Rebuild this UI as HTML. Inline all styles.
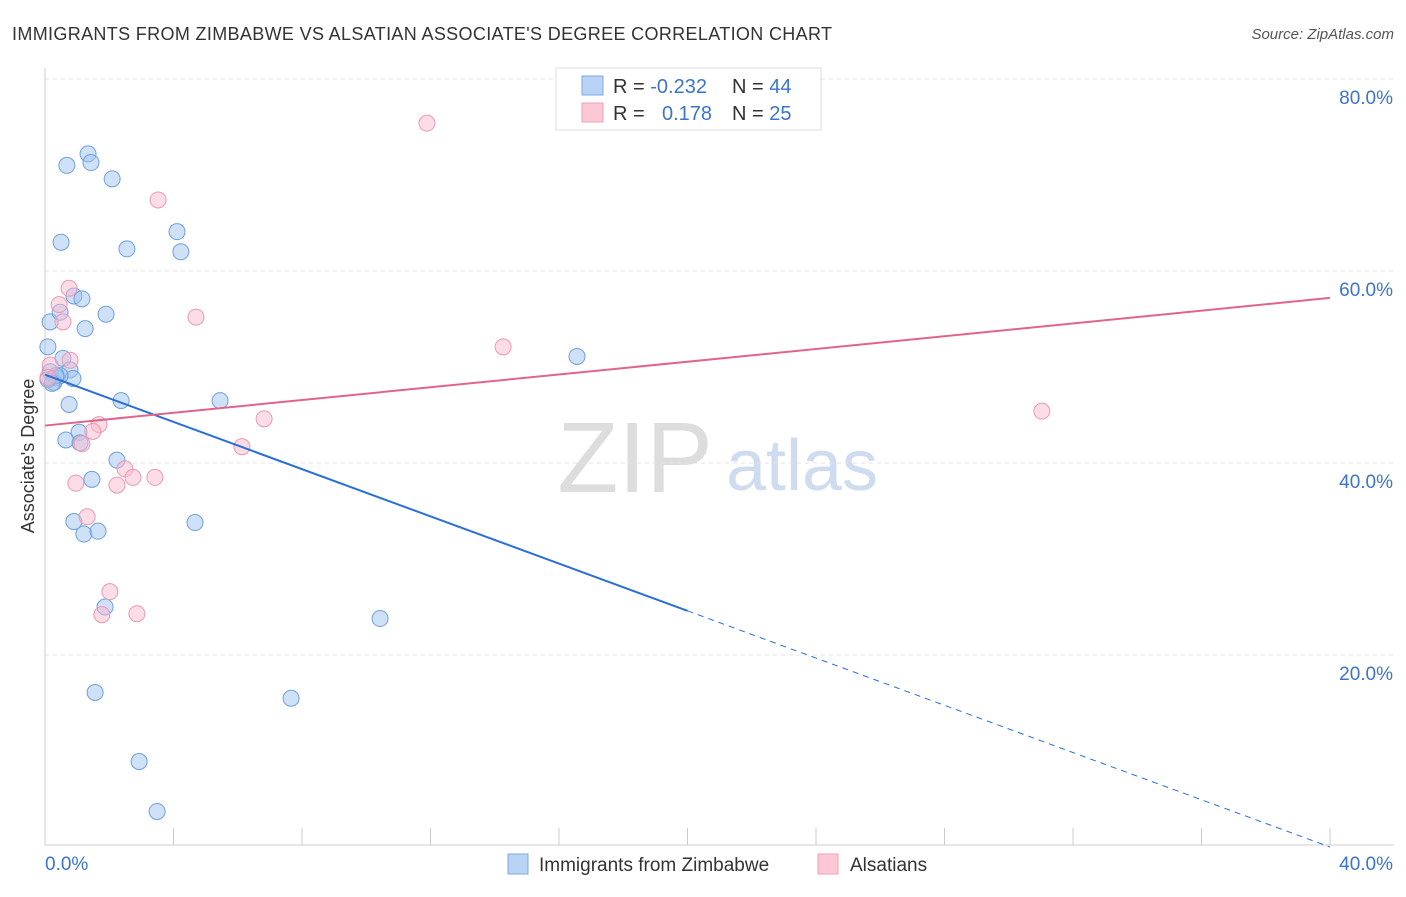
<!DOCTYPE html>
<html><head><meta charset="utf-8"><style>
body{margin:0;background:#fff;font-family:"Liberation Sans",sans-serif}
svg text{font-family:"Liberation Sans",sans-serif}
</style></head><body>
<svg id="c" width="1406" height="892" xmlns="http://www.w3.org/2000/svg">
<text x="12" y="40" font-size="18" fill="#333" textLength="820">IMMIGRANTS FROM ZIMBABWE VS ALSATIAN ASSOCIATE'S DEGREE CORRELATION CHART</text>
<text x="1394" y="39" font-size="15" fill="#555" text-anchor="end" font-style="italic">Source: ZipAtlas.com</text>
<text transform="translate(34,456) rotate(-90)" font-size="18" fill="#333" text-anchor="middle">Associate's Degree</text>
<g><text x="635" y="492" font-size="100" fill="#ddd" font-family="Liberation Serif" text-anchor="middle">ZIP</text><text x="802" y="490" font-size="72" fill="#cfdcf0" text-anchor="middle">atlas</text></g>
<g id="grid"></g><g id="pts"></g><g id="lines"></g>
<g>
<rect x="556" y="68" width="265" height="62" fill="#fff" stroke="#ddd"/>
<rect x="582" y="76" width="21" height="19" fill="#b8d3f5" stroke="#7ea9e0"/>
<rect x="582" y="103" width="21" height="19" fill="#fcc8d6" stroke="#efa1b6"/>
<text x="613" y="93" font-size="20" fill="#333">R = <tspan fill="#3b74cc">-0.232</tspan></text>
<text x="732" y="93" font-size="20" fill="#333">N = <tspan fill="#3b74cc">44</tspan></text>
<text x="613" y="120" font-size="20" fill="#333">R = <tspan fill="#3b74cc" x="662">0.178</tspan></text>
<text x="732" y="120" font-size="20" fill="#333">N = <tspan fill="#3b74cc">25</tspan></text>
</g>
<g>
<rect x="508" y="854" width="20" height="20" fill="#b8d3f5" stroke="#7ea9e0"/>
<text x="539" y="871" font-size="19" fill="#333">Immigrants from Zimbabwe</text>
<rect x="818" y="854" width="20" height="20" fill="#fcc8d6" stroke="#efa1b6"/>
<text x="850" y="871" font-size="19" fill="#333">Alsatians</text>
</g>
</svg>
<script>
const yTicks=[20,40,60,80];
const xTickLabels=["0.0%","40.0%"];
const blueX=[0.68,1.34,1.43,2.09,0.50,2.55,4.11,4.23,0.90,1.15,1.90,0.16,1.25,0.47,0.09,0.56,0.16,0.34,0.78,0.87,0.28,0.47,0.75,2.37,5.45,16.56,0.65,1.06,1.09,2.24,1.46,0.90,1.21,1.65,4.67,1.87,10.43,1.56,7.66,2.93,3.49,0.09,0.34,0.22];
const blueY=[71.0,72.2,71.3,69.6,63.0,62.3,64.1,62.0,57.4,57.1,55.5,54.7,54.0,55.7,52.1,50.9,49.5,48.9,49.7,48.8,48.4,49.1,46.1,46.5,46.5,51.1,42.4,43.2,42.1,40.3,38.3,33.9,32.6,32.9,33.8,25.0,23.8,16.1,15.5,8.9,3.7,48.7,49.1,48.3];
const pinkX=[11.89,3.52,0.75,0.44,0.56,4.70,0.78,0.16,14.26,31.03,0.09,6.82,1.68,1.49,1.15,6.13,2.49,2.74,3.42,0.96,2.24,1.31,2.02,1.77,2.86];
const pinkY=[75.4,67.4,58.2,56.5,54.7,55.2,50.7,50.2,52.1,45.4,48.9,44.6,44.0,43.3,42.0,41.7,39.4,38.5,38.5,37.9,37.7,34.4,26.6,24.2,24.3];
const blueLine=[49.2,0.0], pinkLine=[43.9,57.2];
const X0=45,X1=1330,Y0=847,PY=9.6;
const sx=v=>X0+(X1-X0)*v/40, sy=v=>Y0-v*PY;
const NS="http://www.w3.org/2000/svg";
function mk(t,a,p){const e=document.createElementNS(NS,t);for(const k in a)e.setAttribute(k,a[k]);p.appendChild(e);return e;}
const g=document.getElementById('grid');
yTicks.forEach(t=>{const l=mk('line',{x1:X0,x2:1394,y1:sy(t),y2:sy(t),stroke:'#e3e3e3','stroke-dasharray':'4,4'},g);


const tx=mk('text',{x:1393,y:sy(t)+25,'font-size':19,fill:'#3b74cc','text-anchor':'end'},g);tx.textContent=t.toFixed(1)+'%';

});
const ax=mk('line',{x1:X0,x2:X0,y1:68,y2:845,stroke:'#ccc'},g);


const bx=mk('line',{x1:X0,x2:1394,y1:845,y2:845,stroke:'#ccc'},g);


for(let i=1;i<=10;i++){const l=mk('line',{x1:sx(i*4),x2:sx(i*4),y1:828,y2:845,stroke:'#ccc'},g);

}
[[0,'start',45],[40,'end',1393]].forEach((d,i)=>{const t=mk('text',{x:d[2],y:870,'font-size':19,fill:'#3b74cc','text-anchor':d[1]},g);t.textContent=xTickLabels[i];

});
const p=document.getElementById('pts');
blueX.forEach((x,i)=>{const c=mk('circle',{cx:sx(x),cy:sy(blueY[i]),r:8,fill:'rgba(160,195,240,0.5)',stroke:'#6f9fdc','stroke-width':1},p);

});
pinkX.forEach((x,i)=>{const c=mk('circle',{cx:sx(x),cy:sy(pinkY[i]),r:8,fill:'rgba(250,185,205,0.5)',stroke:'#ec98b2','stroke-width':1},p);

});
const L=document.getElementById('lines');
const bv=x=>blueLine[0]+(blueLine[1]-blueLine[0])*x/40;
const b1=mk('line',{x1:sx(0),y1:sy(bv(0)),x2:sx(20),y2:sy(bv(20)),stroke:'#2a6fd6','stroke-width':2},L);


const b2=mk('line',{x1:sx(20),y1:sy(bv(20)),x2:sx(40),y2:sy(bv(40)),stroke:'#2a6fd6','stroke-width':1,'stroke-dasharray':'6,5'},L);


const pl=mk('line',{x1:sx(0),y1:sy(pinkLine[0]),x2:sx(40),y2:sy(pinkLine[1]),stroke:'#e0648e','stroke-width':2},L);


</script>
</body></html>
